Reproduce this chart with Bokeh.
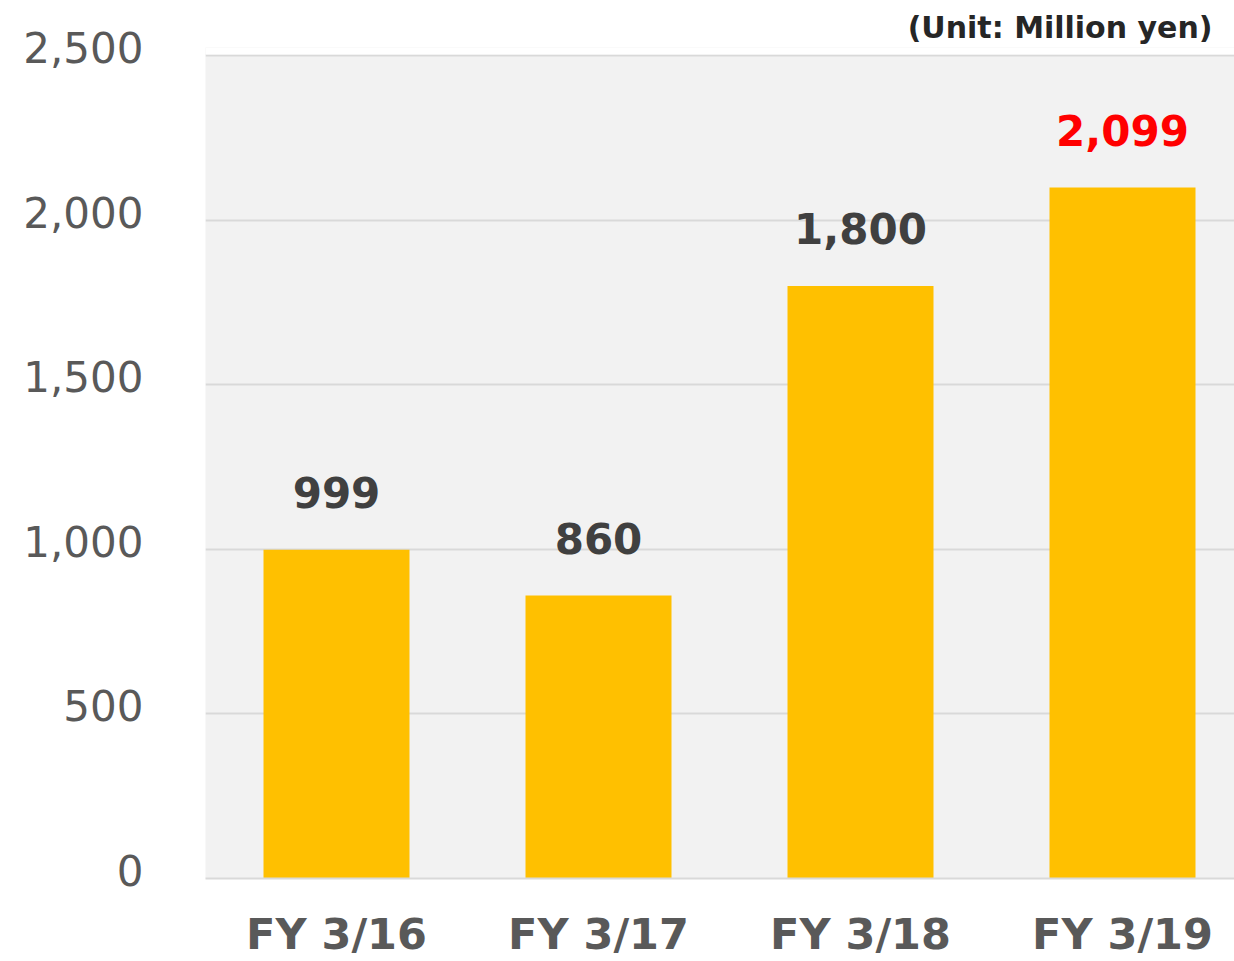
import numpy as np
from bokeh.plotting import figure
from bokeh.models import (Range1d, LinearAxis, FixedTicker, ColumnDataSource,
                          NumeralTickFormatter, BoxAnnotation, Title)
from bokeh.core.properties import value
from bokeh.embed import file_html
from bokeh.resources import INLINE

categories = ["FY 3/16", "FY 3/17", "FY 3/18", "FY 3/19"]
values = [999, 860, 1800, 2099]
y_ticks = [0, 500, 1000, 1500, 2000, 2500]
unit_text = "(Unit: Million yen)"

FONT = "DejaVu Sans"
W, H = 1234, 961
left = 205
y_top_px, y_zero_px = 55, 878          # pixel rows of 2500 and 0
ext_px = 8                             # frame extends slightly above 2500
top = y_top_px - ext_px
bottom = H - y_zero_px
frame_w = W - left
cat_px = 262.0
px_per_unit = (y_zero_px - y_top_px) / 2500.0
ext = ext_px / px_per_unit

x = np.arange(len(categories)) + 0.5
label_colors = ["#404040"] * (len(values) - 1) + ["#ff0000"]
labels = [f"{v:,}" for v in values]

src = ColumnDataSource(dict(x=x, v=values, lab=labels, col=label_colors))

p = figure(width=W, height=H, output_backend="svg", toolbar_location=None,
           x_range=Range1d(0, frame_w / cat_px), y_range=Range1d(0, 2500 + ext),
           min_border_left=left, min_border_top=top, min_border_bottom=bottom,
           min_border_right=0)
p.background_fill_color = "#f2f2f2"
p.border_fill_color = "white"
p.outline_line_color = None

# hide the sliver of frame above the 2500 line
p.add_layout(BoxAnnotation(bottom=2500 + 1.1 / px_per_unit, fill_color="white",
                           fill_alpha=1.0, line_color=None))

# grid
p.ygrid.ticker = FixedTicker(ticks=y_ticks)
p.ygrid.grid_line_color = "#d9d9d9"
p.ygrid.grid_line_width = 2
p.xgrid.visible = False

# default y axis hidden; label axis shifted slightly upward
p.yaxis.visible = False
shift = 8 / px_per_unit
p.extra_y_ranges = {"lab": Range1d(-shift, 2500 + ext - shift)}
yax = LinearAxis(y_range_name="lab", ticker=FixedTicker(ticks=y_ticks))
yax.formatter = NumeralTickFormatter(format="0,0")
yax.axis_line_color = None
yax.major_tick_line_color = None
yax.minor_tick_line_color = None
yax.major_label_standoff = 56
yax.major_label_text_font = FONT
yax.major_label_text_font_size = "42px"
yax.major_label_text_color = "#595959"
p.add_layout(yax, "left")

# x axis
p.xaxis.ticker = FixedTicker(ticks=list(x))
p.xaxis.major_label_overrides = {float(xx): c for xx, c in zip(x, categories)}
p.xaxis.axis_line_color = "#d9d9d9"
p.xaxis.axis_line_width = 2
p.xaxis.major_tick_line_color = None
p.xaxis.minor_tick_line_color = None
p.xaxis.major_label_standoff = 24
p.xaxis.major_label_text_font = FONT
p.xaxis.major_label_text_font_style = "bold"
p.xaxis.major_label_text_font_size = "43px"
p.xaxis.major_label_text_color = "#595959"

p.vbar(x="x", top="v", width=146 / cat_px, bottom=0, source=src,
       fill_color="#ffc000", line_color=None)

p.text(x="x", y="v", text="lab", source=src, text_color="col",
       text_align="center", text_baseline="alphabetic", y_offset=-57,
       text_font=value(FONT), text_font_style="bold", text_font_size="42px")

title = Title(text=unit_text, align="right", offset=22, standoff=6,
              text_font=FONT, text_font_style="bold", text_font_size="30px",
              text_color="#262626")
p.add_layout(title, "above")

open("out.html", "w").write(file_html(p, INLINE))
